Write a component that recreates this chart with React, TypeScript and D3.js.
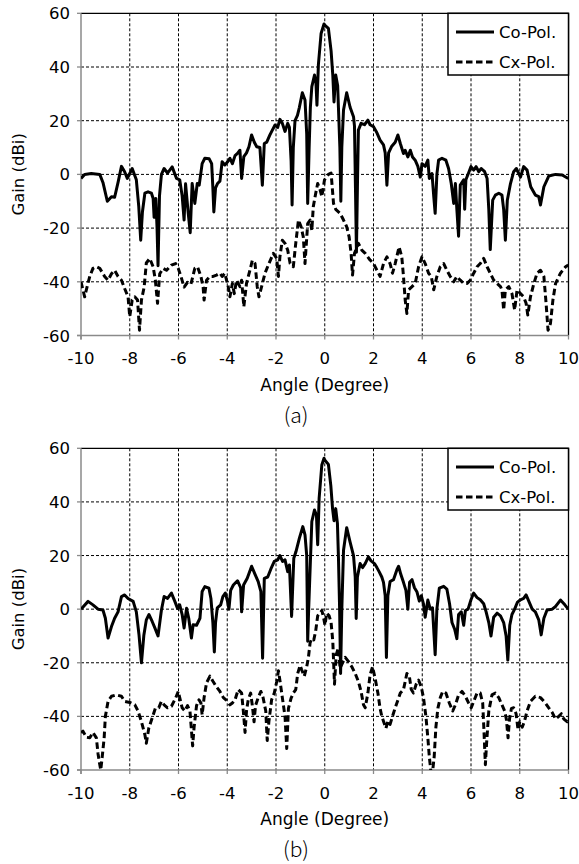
import React from "react";
import * as d3 from "d3";

const xTicks = [-10, -8, -6, -4, -2, 0, 2, 4, 6, 8, 10];
const yTicks = [-60, -40, -20, 0, 20, 40, 60];
const seriesNames = ["Co-Pol.", "Cx-Pol."];
const captions = ["(a)", "(b)"];
const xTitle = "Angle (Degree)";
const yTitle = "Gain (dBi)";

// Panel (a) Co-Pol. [angle, gain]
const coPolA: [number, number][] = [
  [-10.0, -1.5], [-9.85, 0], [-9.58, 0.3], [-9.23, 0], [-9.1, -3], [-8.92, -10], [-8.75, -8.3], [-8.62, -8.5],
  [-8.48, -3], [-8.34, 3], [-8.21, 1], [-8.1, -1.5], [-7.9, 2.2], [-7.73, -2], [-7.63, -12], [-7.55, -24.5],
  [-7.48, -14], [-7.38, -7], [-7.25, -6.5], [-7.11, -7], [-7.04, -9], [-7.0, -16], [-6.93, -9], [-6.88, -20],
  [-6.84, -34], [-6.78, -8], [-6.7, 0], [-6.59, 2.2], [-6.45, 0.5], [-6.26, 2.8], [-6.08, -1.5], [-5.95, -2],
  [-5.85, -8], [-5.77, -17], [-5.71, -3.5], [-5.6, -14.5], [-5.52, -21.7], [-5.44, -3.4], [-5.33, -10.8],
  [-5.23, -3.4], [-5.15, -4], [-5.03, 4], [-4.92, 6], [-4.74, 5.8], [-4.64, 4], [-4.59, -5], [-4.55, -14],
  [-4.48, -5], [-4.4, -3.4], [-4.3, -2.5], [-4.21, 4.7], [-4.1, 3.5], [-4.0, 4.5], [-3.89, 6], [-3.79, 4],
  [-3.68, 7], [-3.58, 7.8], [-3.48, 9], [-3.41, -1.5], [-3.32, 6.6], [-3.21, 8], [-3.11, 10.3], [-3.0, 14.7],
  [-2.89, 12], [-2.79, 10.3], [-2.66, 10], [-2.56, -4], [-2.48, 11.5], [-2.38, 12], [-2.25, 14.7], [-2.15, 16.5],
  [-2.04, 18.4], [-1.93, 17.5], [-1.84, 20.5], [-1.74, 19], [-1.63, 16], [-1.52, 19], [-1.45, 17.5], [-1.38, 5],
  [-1.34, -11.4], [-1.29, 10], [-1.22, 20], [-1.12, 22], [-1.04, 25], [-0.92, 30.4], [-0.81, 27.7], [-0.74, 15],
  [-0.7, -10.8], [-0.64, 10], [-0.59, 25], [-0.53, 32.7], [-0.42, 37], [-0.36, 34], [-0.32, 25.8], [-0.26, 41],
  [-0.15, 52.5], [-0.03, 56], [0.0, 55.6], [0.15, 54.4], [0.26, 46], [0.33, 37], [0.38, 27], [0.45, 37],
  [0.53, 33], [0.62, 10], [0.66, -10], [0.7, 10], [0.77, 24], [0.9, 30.4], [1.04, 25], [1.18, 21.5], [1.22, 18],
  [1.26, -5], [1.3, -29], [1.34, -5], [1.38, 16.5], [1.49, 19], [1.63, 18.5], [1.77, 20.2], [1.86, 18.5],
  [2.0, 17.8], [2.14, 15.5], [2.27, 12.8], [2.41, 11], [2.48, 8], [2.55, -4], [2.62, 8], [2.75, 10.5], [2.89, 12],
  [3.0, 14.7], [3.1, 11.5], [3.23, 7.8], [3.3, 9], [3.41, 6.5], [3.51, 9], [3.6, 6.5], [3.71, 5.3], [3.82, 3],
  [3.92, -1], [3.99, 4], [4.12, 3], [4.23, 5.3], [4.29, -1.5], [4.4, 0.3], [4.47, -8], [4.53, -14.5], [4.6, 0],
  [4.67, 5.3], [4.81, 6], [4.97, 5.3], [5.08, 2.2], [5.19, -3.4], [5.29, -10.8], [5.36, -3.4], [5.42, -13],
  [5.49, -23], [5.56, -4], [5.7, -2], [5.74, -13], [5.79, -2], [5.9, 0.5], [6.0, 2.9], [6.11, 1.6], [6.21, 2.9],
  [6.32, 1], [6.42, 2.2], [6.56, 1], [6.66, -1.5], [6.73, -13], [6.79, -28], [6.89, -9.6], [7.0, -7.7],
  [7.14, -7], [7.27, -7.7], [7.34, -13], [7.41, -24.5], [7.49, -9.6], [7.62, -3.4], [7.75, 1], [7.86, 2.2],
  [8.03, -1], [8.16, 2.9], [8.3, 1.6], [8.45, -4.6], [8.64, -7.7], [8.78, -8.3], [8.85, -11.4], [8.99, -4.6],
  [9.19, -0.6], [9.47, 0], [9.74, -0.2], [9.99, -1.5],
];

// Panel (a) Cx-Pol.
const cxPolA: [number, number][] = [
  [-10.0, -40], [-9.92, -43], [-9.85, -45.6], [-9.74, -41.5], [-9.64, -38], [-9.51, -35], [-9.37, -34.4],
  [-9.23, -35], [-9.03, -38], [-8.89, -39.4], [-8.75, -37], [-8.62, -35.7], [-8.48, -38], [-8.34, -39.4],
  [-8.21, -42.5], [-8.07, -45.6], [-8.0, -53], [-7.9, -46.8], [-7.79, -45.6], [-7.68, -46.8], [-7.6, -58],
  [-7.52, -46.8], [-7.41, -42], [-7.32, -33], [-7.18, -31.3], [-7.04, -34.4], [-6.95, -39.4], [-6.86, -48],
  [-6.77, -37], [-6.63, -35], [-6.49, -35.7], [-6.29, -33.8], [-6.12, -33.2], [-6.01, -35], [-5.9, -38],
  [-5.77, -42], [-5.63, -40.2], [-5.49, -40.8], [-5.33, -35], [-5.22, -34.4], [-5.08, -38], [-4.99, -42],
  [-4.95, -46.8], [-4.85, -39.4], [-4.71, -38], [-4.58, -38], [-4.44, -37.5], [-4.3, -36.8], [-4.21, -38],
  [-4.1, -36.8], [-3.96, -41.8], [-3.89, -45.6], [-3.79, -40.6], [-3.71, -44.4], [-3.62, -39.4], [-3.48, -41.8],
  [-3.41, -39.4], [-3.32, -49.3], [-3.21, -40.6], [-3.07, -35.7], [-2.97, -32], [-2.86, -33.2], [-2.77, -41.8],
  [-2.7, -45.6], [-2.59, -41.8], [-2.45, -36.8], [-2.29, -33.2], [-2.11, -29.4], [-1.97, -31.3], [-1.9, -38],
  [-1.84, -30.7], [-1.74, -24.5], [-1.63, -25.7], [-1.52, -28.2], [-1.42, -33.2], [-1.29, -34.4], [-1.19, -25.7],
  [-1.08, -17], [-0.97, -19.5], [-0.88, -23.3], [-0.81, -33.2], [-0.7, -18.3], [-0.6, -17], [-0.53, -20.8],
  [-0.47, -12], [-0.37, -7], [-0.29, -3.4], [-0.19, -5.8], [-0.12, -8.3], [-0.01, -2], [0.15, 0], [0.26, 0.5],
  [0.36, -10.8], [0.45, -13], [0.63, -14.5], [0.77, -17], [0.9, -19.5], [1.0, -23.3], [1.08, -29.4],
  [1.14, -37.5], [1.22, -29.4], [1.38, -25.7], [1.52, -28.2], [1.66, -29.4], [1.86, -31.9], [2.0, -33.2],
  [2.14, -35.7], [2.27, -38], [2.41, -33.2], [2.55, -30.7], [2.68, -33.2], [2.78, -36.8], [2.89, -33.2],
  [3.05, -27], [3.16, -30.7], [3.23, -38], [3.3, -46.8], [3.37, -51.8], [3.44, -43], [3.58, -41.8],
  [3.71, -40.6], [3.85, -34.4], [3.99, -30.7], [4.12, -33.2], [4.26, -36.8], [4.37, -38], [4.47, -43],
  [4.6, -38], [4.74, -34.4], [4.88, -33.2], [5.01, -35.7], [5.15, -38], [5.29, -40], [5.42, -38], [5.56, -39.4],
  [5.7, -40.6], [5.84, -40.6], [5.97, -39.4], [6.11, -36.8], [6.25, -34.4], [6.38, -33.2], [6.52, -31.3],
  [6.66, -34.4], [6.79, -36.8], [6.93, -39.4], [7.07, -40.6], [7.21, -41.8], [7.27, -43], [7.34, -50.5],
  [7.41, -43], [7.55, -41.8], [7.68, -44.4], [7.79, -50.5], [7.89, -43], [8.03, -44.4], [8.16, -45.6],
  [8.26, -48], [8.33, -52.4], [8.44, -45.6], [8.58, -40.6], [8.71, -36.8], [8.85, -35.7], [8.99, -38],
  [9.08, -48], [9.16, -58], [9.26, -55.5], [9.36, -46.8], [9.47, -40.6], [9.67, -36.8], [9.88, -34.4],
  [9.99, -33.8],
];

// Panel (b) Co-Pol.
const coPolB: [number, number][] = [
  [-10.0, 0], [-9.71, 2.9], [-9.51, 1.6], [-9.3, 0], [-9.1, -0.3], [-9.0, -3.4], [-8.89, -10.8], [-8.75, -6.5],
  [-8.62, -3.4], [-8.48, -1], [-8.34, 4.7], [-8.21, 5.3], [-8.07, 4], [-7.86, 2.9], [-7.73, -1], [-7.62, -9.6],
  [-7.52, -20], [-7.42, -9.6], [-7.32, -4], [-7.21, -2], [-7.08, -4.6], [-6.97, -7], [-6.84, -10], [-6.7, -0.3],
  [-6.59, 4.7], [-6.45, 4], [-6.29, 6], [-6.15, 2.9], [-6.04, 0.3], [-5.95, 1.6], [-5.85, -2], [-5.77, -7],
  [-5.67, 0.3], [-5.58, -3.4], [-5.47, -10.8], [-5.4, -5.8], [-5.26, -6], [-5.12, -3.4], [-5.03, 6.6],
  [-4.92, 8.4], [-4.75, 7.8], [-4.67, 4], [-4.59, -5], [-4.53, -16], [-4.48, -5], [-4.41, 0.5], [-4.27, 1.6],
  [-4.18, 4.7], [-4.08, 6], [-3.99, 3], [-3.93, 0], [-3.86, 7], [-3.75, 9], [-3.58, 10.6], [-3.45, 8],
  [-3.41, -1], [-3.33, 9], [-3.18, 11.5], [-3.0, 16], [-2.86, 13], [-2.73, 10.3], [-2.62, 6.5], [-2.55, -18.3],
  [-2.48, 11.5], [-2.34, 12], [-2.21, 15], [-2.07, 17.8], [-1.93, 18.4], [-1.84, 20], [-1.73, 17.8],
  [-1.63, 18.4], [-1.52, 14], [-1.45, 16.5], [-1.36, -2.7], [-1.27, 19], [-1.18, 21.5], [-1.04, 26.5],
  [-0.9, 30.8], [-0.81, 27.7], [-0.74, 20], [-0.7, -12], [-0.66, 0], [-0.53, 32.7], [-0.42, 37], [-0.34, 35],
  [-0.29, 24], [-0.23, 41.4], [-0.12, 53.8], [-0.03, 56.3], [0.0, 55.6], [0.15, 54], [0.25, 46], [0.32, 37.5],
  [0.38, 33], [0.45, 37.5], [0.52, 32], [0.56, 20], [0.61, 0], [0.65, -24], [0.7, 0], [0.77, 22], [0.9, 30.4],
  [1.04, 25], [1.18, 20], [1.25, 12], [1.29, -3.5], [1.34, 12], [1.45, 17], [1.55, 15.5], [1.66, 17],
  [1.79, 19.5], [1.9, 18], [2.04, 17], [2.14, 15.5], [2.23, 14], [2.34, 12], [2.41, 10], [2.48, 5],
  [2.53, -18], [2.59, 5], [2.68, 10.3], [2.82, 11], [2.96, 14.7], [3.03, 16], [3.12, 13], [3.23, 10],
  [3.33, 7], [3.41, 0], [3.48, 10], [3.58, 11], [3.68, 8], [3.78, 6.5], [3.88, 3], [3.96, 5], [4.05, 2],
  [4.12, -3], [4.23, 3.4], [4.33, 0], [4.42, 0.5], [4.53, -17], [4.6, 0], [4.7, 7.8], [4.88, 8.5], [5.01, 7.5],
  [5.12, 2], [5.22, -5], [5.33, -7.5], [5.42, -11], [5.49, -2], [5.6, -1], [5.7, -6], [5.77, -0.5], [5.88, 0],
  [6.0, 3.5], [6.11, 6], [6.25, 4.3], [6.38, 3.5], [6.52, 2], [6.62, -1], [6.73, -5], [6.82, -10], [6.93, -3],
  [7.07, -1.5], [7.21, -2.5], [7.34, -5], [7.44, -10], [7.51, -19], [7.59, -6], [7.68, -2], [7.79, 0],
  [7.9, 2.5], [8.03, 3.5], [8.16, 4], [8.26, 5.3], [8.37, 3], [8.51, 0], [8.64, -1], [8.78, -4], [8.88, -9.6],
  [8.99, -3.4], [9.12, -0.3], [9.33, 0], [9.47, 1], [9.67, 3.4], [9.85, 1.6], [9.99, 0],
];

// Panel (b) Cx-Pol.
const cxPolB: [number, number][] = [
  [-10.0, -46], [-9.92, -45.5], [-9.78, -47.8], [-9.64, -48], [-9.51, -46], [-9.37, -48], [-9.3, -54],
  [-9.23, -58], [-9.19, -60], [-9.14, -56], [-9.05, -48], [-9.0, -40], [-8.89, -34.4], [-8.75, -32.5],
  [-8.55, -32], [-8.34, -32.5], [-8.21, -34.4], [-8.0, -34.8], [-7.79, -35.7], [-7.66, -38], [-7.52, -42],
  [-7.38, -46.8], [-7.32, -50], [-7.22, -44.4], [-7.08, -40.6], [-6.95, -37], [-6.81, -36.8], [-6.7, -34.4],
  [-6.59, -35.7], [-6.45, -36.8], [-6.29, -36.2], [-6.12, -33.2], [-6.01, -30.7], [-5.95, -33], [-5.85, -36.8],
  [-5.74, -38], [-5.63, -36], [-5.53, -38], [-5.47, -45], [-5.42, -51], [-5.36, -44], [-5.26, -36],
  [-5.16, -33.8], [-5.08, -35], [-5.03, -39.4], [-4.95, -33], [-4.85, -27.5], [-4.71, -25], [-4.58, -27],
  [-4.44, -29], [-4.3, -30.7], [-4.16, -33], [-4.03, -34], [-3.89, -35.7], [-3.79, -35], [-3.68, -33.8],
  [-3.55, -30], [-3.41, -31.3], [-3.34, -38], [-3.27, -46], [-3.21, -38], [-3.14, -33.8], [-3.04, -31.3],
  [-2.97, -36], [-2.9, -42], [-2.84, -36], [-2.73, -33], [-2.62, -30.7], [-2.53, -33], [-2.42, -38],
  [-2.36, -49], [-2.29, -41.8], [-2.18, -33.8], [-2.07, -31.3], [-1.97, -27], [-1.9, -23], [-1.84, -26.5],
  [-1.74, -33], [-1.63, -40], [-1.56, -52], [-1.49, -37], [-1.38, -33.2], [-1.29, -31.3], [-1.19, -30],
  [-1.11, -24], [-1.01, -21], [-0.95, -22.5], [-0.84, -25], [-0.74, -21.5], [-0.67, -18], [-0.6, -12.5],
  [-0.53, -11], [-0.45, -11.5], [-0.37, -8], [-0.29, -2.5], [-0.19, -1.5], [-0.12, -0.5], [-0.05, -3],
  [0.01, -6], [0.08, -1.5], [0.18, -2.5], [0.26, -5], [0.33, -12], [0.4, -28], [0.47, -17], [0.56, -14.5],
  [0.63, -22], [0.73, -20], [0.84, -18], [0.97, -19.5], [1.11, -21.5], [1.25, -24], [1.38, -27], [1.49, -30.7],
  [1.59, -35.7], [1.66, -36.8], [1.77, -31.3], [1.86, -24.5], [1.96, -21.5], [2.07, -26], [2.18, -31.3],
  [2.27, -37], [2.34, -40], [2.41, -41.8], [2.51, -44.4], [2.59, -41.8], [2.68, -43], [2.78, -40],
  [2.89, -36.8], [3.0, -34], [3.1, -31.3], [3.23, -30], [3.37, -24], [3.47, -25], [3.55, -30], [3.64, -31.3],
  [3.75, -28], [3.85, -26.5], [3.96, -29], [4.05, -33], [4.15, -40], [4.23, -48], [4.29, -55], [4.36, -61],
  [4.42, -61], [4.49, -55], [4.56, -44], [4.64, -37], [4.74, -33], [4.84, -30.7], [4.97, -31.3], [5.11, -35],
  [5.25, -38], [5.36, -35.7], [5.49, -32], [5.63, -30.7], [5.77, -32.5], [5.9, -35], [6.01, -36.8],
  [6.11, -34.4], [6.25, -31.3], [6.38, -31.3], [6.48, -35], [6.53, -45], [6.59, -58], [6.64, -50], [6.73, -38],
  [6.86, -32], [7.0, -31.3], [7.14, -33], [7.27, -35.7], [7.38, -38], [7.45, -41], [7.52, -48], [7.58, -41],
  [7.66, -37], [7.75, -36.8], [7.85, -39], [7.93, -45], [8.0, -42], [8.1, -44], [8.19, -42], [8.3, -38],
  [8.44, -34.4], [8.64, -32.5], [8.85, -33], [9.05, -35], [9.19, -36.8], [9.33, -38.5], [9.47, -41],
  [9.6, -40], [9.71, -39], [9.81, -41], [9.95, -42], [10.0, -41],
];

const FONT = "'DejaVu Sans', Verdana, sans-serif";
const X0 = 81;
const X1 = 568.5;
const AXIS_GRAY = "#8a8a8a";
const LINE_W = 3;
const DASH = "6.5,3.5";

type PanelProps = {
  id: string;
  top: number;
  bottom: number;
  co: [number, number][];
  cx: [number, number][];
  caption: string;
};

function Panel({ id, top, bottom, co, cx, caption }: PanelProps) {
  const x = d3.scaleLinear().domain([-10, 10]).range([X0, X1]);
  const y = d3.scaleLinear().domain([-60, 60]).range([bottom, top]);
  const line = d3
    .line<[number, number]>()
    .x((d) => x(d[0]))
    .y((d) => y(d[1]))
    .curve(d3.curveLinear);
  const legX0 = 448;
  const legY0 = top;
  const legH = 61.7;
  const rows = [legY0 + 18.7, legY0 + 48.7];
  return (
    <g>
      <defs>
        <clipPath id={`clip-${id}`}>
          <rect x={X0} y={top} width={X1 - X0} height={bottom - top} />
        </clipPath>
      </defs>
      {/* grid */}
      {xTicks.slice(1, -1).map((t) => (
        <line key={`gx${t}`} x1={x(t)} x2={x(t)} y1={top} y2={bottom} stroke="#000" strokeWidth={1} strokeDasharray="3,2" />
      ))}
      {yTicks.slice(1, -1).map((t) => (
        <line key={`gy${t}`} x1={X0} x2={X1} y1={y(t)} y2={y(t)} stroke="#000" strokeWidth={1} strokeDasharray="3,2" />
      ))}
      {/* frame */}
      <line x1={X0} x2={X1} y1={top} y2={top} stroke="#000" strokeWidth={1.3} />
      <line x1={X1} x2={X1} y1={top} y2={bottom} stroke="#000" strokeWidth={1.3} />
      <line x1={X0} x2={X0} y1={top} y2={bottom + 4} stroke={AXIS_GRAY} strokeWidth={1.5} />
      <line x1={X0 - 4} x2={X1} y1={bottom} y2={bottom} stroke={AXIS_GRAY} strokeWidth={1.5} />
      {xTicks.map((t) => (
        <line key={`tx${t}`} x1={x(t)} x2={x(t)} y1={bottom} y2={bottom + 4} stroke={AXIS_GRAY} strokeWidth={1.3} />
      ))}
      {yTicks.map((t) => (
        <line key={`ty${t}`} x1={X0 - 4} x2={X0} y1={y(t)} y2={y(t)} stroke={AXIS_GRAY} strokeWidth={1.3} />
      ))}
      {/* tick labels */}
      {xTicks.map((t) => (
        <text key={`lx${t}`} x={x(t)} y={bottom + 28.5} textAnchor="middle" fontFamily={FONT} fontSize={16.5} fill="#000">
          {t}
        </text>
      ))}
      {yTicks.map((t) => (
        <text key={`ly${t}`} x={70} y={y(t) + 6} textAnchor="end" fontFamily={FONT} fontSize={16.5} fill="#000">
          {t}
        </text>
      ))}
      <text x={(X0 + X1) / 2} y={bottom + 55} textAnchor="middle" fontFamily={FONT} fontSize={17} fill="#000">
        {xTitle}
      </text>
      <text
        transform={`translate(24, ${(top + bottom) / 2}) rotate(-90)`}
        textAnchor="middle"
        fontFamily={FONT}
        fontSize={16.5}
        fill="#000"
      >
        {yTitle}
      </text>
      {/* series */}
      <g clipPath={`url(#clip-${id})`}>
        <path d={line(cx) || ""} fill="none" stroke="#000" strokeWidth={LINE_W} strokeDasharray={DASH} strokeLinejoin="round" />
        <path d={line(co) || ""} fill="none" stroke="#000" strokeWidth={LINE_W} strokeLinejoin="round" />
      </g>
      {/* legend */}
      <rect x={legX0} y={legY0} width={X1 - legX0} height={legH} fill="#fff" stroke="#000" strokeWidth={1.5} />
      {seriesNames.map((name, i) => (
        <g key={name}>
          <line
            x1={456}
            x2={494}
            y1={rows[i]}
            y2={rows[i]}
            stroke="#000"
            strokeWidth={LINE_W}
            strokeDasharray={i === 1 ? DASH : undefined}
          />
          <text x={499} y={rows[i] + 5.8} fontFamily={FONT} fontSize={16.5} fill="#000">
            {name}
          </text>
        </g>
      ))}
      <text
        x={296}
        y={bottom + 87}
        textAnchor="middle"
        fontFamily="'Noto Sans CJK KR', 'Noto Sans', sans-serif"
        fontWeight={300}
        fontSize={21}
        fill="#000"
      >
        {caption}
      </text>
    </g>
  );
}

export default function App() {
  return (
    <div style={{ position: "absolute", left: 0, top: 0, width: 579, height: 864, background: "#fff" }}>
      <svg width={579} height={864} viewBox="0 0 579 864">
        <rect width={579} height={864} fill="#fff" />
        <Panel id="a" top={13.3} bottom={335.5} co={coPolA} cx={cxPolA} caption={captions[0]} />
        <Panel id="b" top={448.3} bottom={770} co={coPolB} cx={cxPolB} caption={captions[1]} />
      </svg>
    </div>
  );
}
